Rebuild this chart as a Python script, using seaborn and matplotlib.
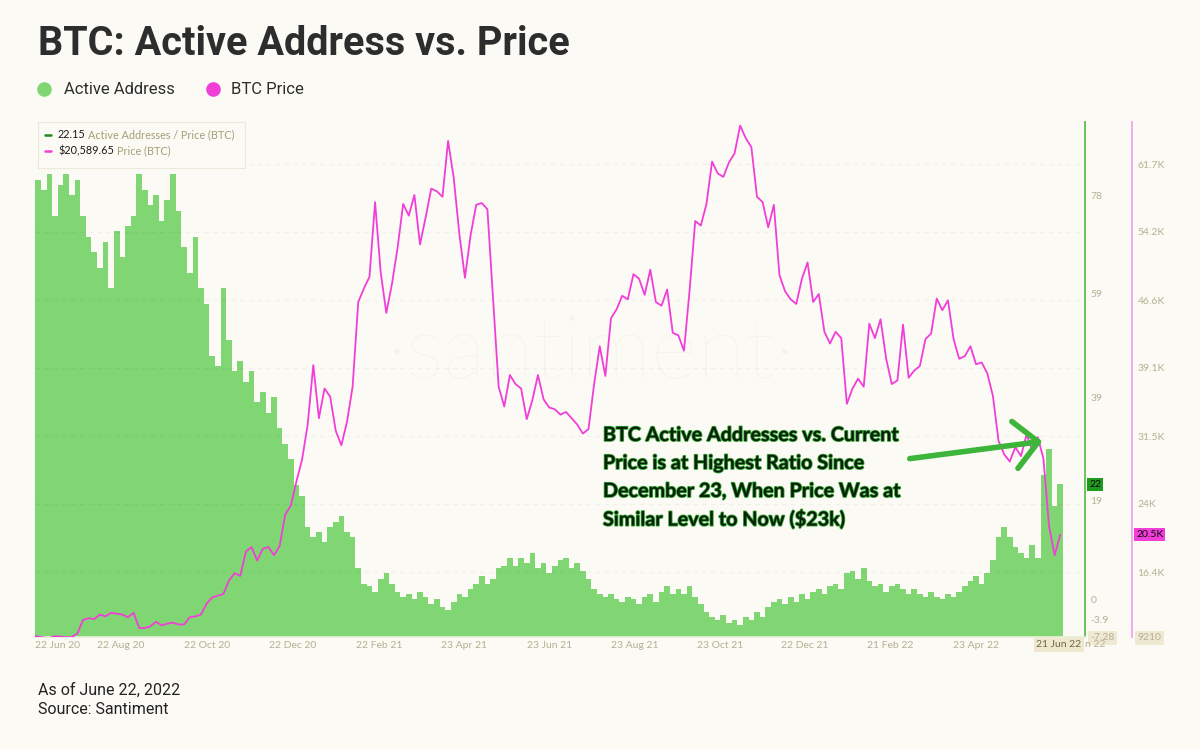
import math
import numpy as np
import pandas as pd
import matplotlib
matplotlib.use("Agg")
import matplotlib.pyplot as plt
import matplotlib.dates as mdates
import matplotlib.patheffects as pe
import matplotlib.transforms as mtransforms
from matplotlib.lines import Line2D
from matplotlib.patches import Rectangle, FancyArrowPatch
import seaborn as sns

# one reading every 4 days, 20 Jun 2020 -> 22 Jun 2022
dates = pd.date_range("2020-06-20", periods=184, freq="4D")

# Active Addresses / Price (BTC)
ratio = [
    77, 81, 79, 82, 74, 80, 82, 78,
    81, 74, 70, 67, 64, 69, 60, 71,
    66, 72, 74, 82, 79, 76, 78, 73,
    77, 82, 75, 68, 63, 70, 60, 57,
    47, 45, 60, 50, 44, 46, 42, 44,
    38, 40, 36, 39, 33, 30, 27, 22,
    20, 14, 12, 13, 11, 14, 15, 16,
    13, 12, 6, 3, 2.5, 1.5, 4, 5,
    3, 1.5, 0.5, 1, 0, 1.5, 0.5, -1,
    0, -1.5, -2, -0.5, 1, 0.5, 2, 3,
    4.5, 3, 4, 6, 6.5, 8, 6.5, 8,
    7, 9, 6, 7, 5, 6.5, 7.5, 8,
    6, 7, 5.5, 4, 2, 1, 0.5, 1,
    0, -0.5, 0.5, 0, -1, 0.5, 1, -0.5,
    1.5, 2.5, 1, 2, 1, 2.5, 0.5, -1,
    -2.5, -3.5, -4, -3, -4.5, -4, -5, -3.5,
    -4, -2.5, -3.5, -1.5, -0.5, 0, -1, 0.5,
    -0.5, 1, 0, 1.5, 2, 1, 2.5, 3,
    2, 5, 5.5, 4, 6, 3.5, 2.5, 3,
    1.5, 2.5, 3, 2, 1, 2, 1, 0.5,
    1.5, 0.5, 0, 1, 0.5, 1.5, 2.5, 3.5,
    4.5, 3, 5, 7.5, 12, 14, 12, 10,
    9, 8, 10.5, 8, 24, 29, 18, 22.15,
]

# BTC price in $K
price_k = [
    9.4, 9.25, 9.15, 9.1, 9.3, 9.25, 9.2, 9.2,
    9.6, 11.1, 11.3, 11.2, 11.7, 11.5, 11.9, 11.8,
    11.7, 11.4, 11.9, 10.2, 10.2, 10.4, 10.9, 10.5,
    10.7, 10.8, 10.6, 10.6, 11.4, 11.5, 11.7, 12.9,
    13.6, 13.8, 14.0, 15.5, 16.3, 16.0, 18.7, 19.2,
    17.7, 19.0, 19.2, 18.3, 19.3, 22.8, 23.8, 26.5,
    28.9, 32.8, 39.4, 33.5, 36.8, 35.9, 32.1, 30.5,
    33.1, 37.0, 46.4, 47.9, 49.2, 57.5, 49.7, 45.2,
    48.4, 52.4, 57.3, 56.0, 58.3, 52.8, 55.8, 59.0,
    58.7, 58.1, 64.3, 60.2, 54.0, 49.1, 53.8, 57.2,
    57.4, 56.7, 46.9, 37.0, 34.8, 38.3, 37.3, 36.8,
    33.4, 35.5, 38.3, 35.6, 34.7, 34.5, 33.9, 34.2,
    33.5, 32.8, 31.8, 32.3, 37.3, 41.5, 38.2, 44.6,
    45.6, 47.1, 46.7, 49.5, 49.0, 47.2, 50.0, 46.4,
    46.0, 47.8, 43.0, 42.7, 41.0, 47.7, 55.4, 54.9,
    57.3, 62.0, 60.7, 60.3, 61.9, 62.9, 66.0, 64.6,
    63.6, 58.1, 57.5, 54.7, 57.2, 49.4, 47.6, 46.7,
    46.2, 49.0, 50.8, 46.4, 47.3, 43.1, 41.8, 43.1,
    42.4, 35.1, 36.8, 37.9, 37.0, 44.0, 42.4, 44.5,
    40.1, 37.3, 37.7, 43.9, 38.0, 38.8, 39.3, 42.3,
    42.9, 46.8, 45.5, 46.6, 42.3, 40.1, 40.4, 41.5,
    39.5, 39.7, 38.5, 36.0, 31.0, 29.5, 28.7, 30.3,
    29.3, 31.7, 29.9, 31.4, 29.0, 21.5, 18.3, 20.58965,
]

ratio_ticks = [78, 59, 39, 19, 0, -3.9, -7.28]
price_ticks = [61700, 54200, 46600, 39100, 31500, 24000, 16400, 9210]
price_tick_labels = ["61.7K", "54.2K", "46.6K", "39.1K", "31.5K", "24K", "16.4K", "9210"]
date_ticks = ["2020-06-22", "2020-08-22", "2020-10-22", "2020-12-22", "2021-02-22",
              "2021-04-23", "2021-06-23", "2021-08-23", "2021-10-23", "2021-12-22",
              "2022-02-21", "2022-04-23"]
last_tick = "2022-06-21"

BG = "#fbfaf4"
GREEN = "#80d673"
PINK = "#f23ed9"
TICK = "#b6af94"
R_MIN, R_MAX = -7.28, 92.1
P_MIN, P_MAX = 9210, 66400

df = pd.DataFrame({"date": dates, "ratio": ratio, "price": np.array(price_k) * 1000})

sns.set_theme(style="white")
plt.rcParams["font.family"] = ["Lato", "DejaVu Sans"]


def fx(px):
    return px / 1200


def fy(py):
    return 1 - py / 750


fig = plt.figure(figsize=(12, 7.5), dpi=100, facecolor=BG)
ax = fig.add_axes([fx(35), fy(637), 1050 / 1200, 515 / 750])
ax.set_facecolor(BG)

# green bars hang from the bottom of the axis
ax.bar(df["date"], df["ratio"] - R_MIN, bottom=R_MIN, width=4, color=GREEN,
       linewidth=0, zorder=2)
ax.set_ylim(R_MIN, R_MAX)
x0 = mdates.date2num(pd.Timestamp("2020-06-20"))
ax.set_xlim(x0 + 1.8, x0 + 749.6)

ax.text(0.53, 0.55, "\u00b7santiment\u00b7", transform=ax.transAxes, fontsize=64,
        color="#ebe8dc", alpha=0.4, ha="center", va="center", zorder=1,
        family="Lato", weight="light")

ax2 = ax.twinx()
sns.lineplot(data=df, x="date", y="price", ax=ax2, color=PINK, linewidth=1.3)
ax2.set_ylim(P_MIN, P_MAX)
ax2.set_xlim(x0 + 1.8, x0 + 749.6)
ax.set_xlabel("")
ax.set_ylabel("")
ax2.set_xlabel("")
ax2.set_ylabel("")

# spines
for s in ["left", "top"]:
    ax.spines[s].set_visible(False)
ax.spines["bottom"].set_color("#e6efd9")
ax.spines["right"].set_color("#5cc24d")
ax.spines["right"].set_linewidth(1.3)
for s in ["left", "top", "bottom"]:
    ax2.spines[s].set_visible(False)
ax2.spines["right"].set_position(("outward", 47 * 0.72))
ax2.spines["right"].set_color("#f5a3e6")
ax2.spines["right"].set_linewidth(1.3)

# ratio axis ticks
ax.yaxis.tick_right()
ax.set_yticks(ratio_ticks)
ax.set_yticklabels([f"{t:g}" for t in ratio_ticks])
ax.tick_params(axis="y", length=0, pad=4, labelsize=7.5, colors=TICK)
for lab in ax.get_yticklabels():
    if lab.get_text() == "-7.28":
        lab.set_bbox(dict(boxstyle="square,pad=0.2", fc="#efe9d3", ec="none"))

# price axis ticks
ax2.set_yticks(price_ticks)
ax2.set_yticklabels(price_tick_labels)
ax2.tick_params(axis="y", length=0, pad=4, labelsize=7.5, colors=TICK)
for lab in ax2.get_yticklabels():
    if lab.get_text() == "9210":
        lab.set_bbox(dict(boxstyle="square,pad=0.2", fc="#efe9d3", ec="none"))

# date ticks
ax.set_xticks(pd.to_datetime(date_ticks))
ax.xaxis.set_major_formatter(mdates.DateFormatter("%d %b %y"))
ax.tick_params(axis="x", length=0, pad=3, labelsize=7.5, colors=TICK)
ax.get_xticklabels()[0].set_horizontalalignment("left")

# faint grid
ax2.grid(True, axis="both", color="#000000", alpha=0.045, linewidth=0.8,
         linestyle=(0, (4, 4)))
ax2.set_xticks(pd.to_datetime(date_ticks))
ax2.tick_params(axis="x", length=0, labelbottom=False)
ax.grid(False)

# last-value highlights
tr_r = mtransforms.blended_transform_factory(ax.transAxes, ax.transData)
ax.text(1 + 4 / 1050, df["ratio"].iloc[-1], f"{df['ratio'].iloc[-1]:.0f}",
        transform=tr_r, fontsize=7.5, color="#0a0a0a", va="center", ha="left",
        bbox=dict(boxstyle="square,pad=0.2", fc="#1f9a1f", ec="none"), clip_on=False, zorder=6)
tr_p = mtransforms.blended_transform_factory(ax2.transAxes, ax2.transData)
last_p = math.floor(df["price"].iloc[-1] / 100) / 10
ax2.text(1 + 51 / 1050, df["price"].iloc[-1], f"{last_p:.1f}K",
         transform=tr_p, fontsize=7.5, color="#0a0a0a", va="center", ha="left",
         bbox=dict(boxstyle="square,pad=0.2", fc=PINK, ec="none"), clip_on=False, zorder=6)

# highlighted last date; the tail of the hidden "22 Jun 22" label peeks out after it
tr_x = mtransforms.blended_transform_factory(ax.transData, ax.transAxes)
ax.text(1 + 0 / 1050, -0.0155, "n 22", transform=ax.transAxes, fontsize=7.5,
        color=TICK, ha="left", va="center", clip_on=False, zorder=4)
ax.text(mdates.date2num(pd.Timestamp(last_tick)), -0.0155, "21 Jun 22", transform=tr_x,
        fontsize=7.5, color="#6e6747", ha="center", va="center", clip_on=False, zorder=5,
        bbox=dict(boxstyle="square,pad=0.25", fc="#efe8cf", ec="none"))

# inner legend box
fig.add_artist(Rectangle((fx(38), fy(168)), 207 / 1200, 46 / 750, transform=fig.transFigure,
                         fc=BG, ec="#ebe8dc", lw=0.8, zorder=10))
fig.add_artist(Line2D([fx(45), fx(51)], [fy(135)] * 2, color="#1d8c1d", lw=1.8,
                      transform=fig.transFigure, zorder=11))
fig.add_artist(Line2D([fx(45), fx(51)], [fy(151)] * 2, color=PINK, lw=1.8,
                      transform=fig.transFigure, zorder=11))
fig.text(fx(58), fy(135), f"{ratio[-1]:.2f}", fontsize=7.8, color="#1a1a1a", va="center", zorder=11)
fig.text(fx(88), fy(135), "Active Addresses / Price (BTC)", fontsize=7.8, color="#a69f78",
         va="center", zorder=11)
fig.text(fx(58), fy(151), f"${price_k[-1] * 1000:,.2f}", fontsize=7.8, color="#1a1a1a",
         va="center", zorder=11)
fig.text(fx(117), fy(151), "Price (BTC)", fontsize=7.8, color="#a69f78", va="center", zorder=11)

# title, legend, footer
fig.text(fx(38), fy(44), "BTC: Active Address vs. Price", fontsize=28.5, weight="bold",
         family="Roboto", color="#2d2d2d", va="center")
fig.add_artist(Line2D([fx(44)], [fy(89)], marker="o", ms=10.5, color=GREEN, mec="none",
                      transform=fig.transFigure))
fig.text(fx(64), fy(89), "Active Address", fontsize=12, family="Roboto", color="#2d2d2d",
         va="center")
fig.add_artist(Line2D([fx(213)], [fy(89)], marker="o", ms=10.5, color=PINK, mec="none",
                      transform=fig.transFigure))
fig.text(fx(231), fy(89), "BTC Price", fontsize=12, family="Roboto", color="#2d2d2d",
         va="center")
fig.text(fx(38), fy(690), "As of June 22, 2022", fontsize=11.5, family="Roboto",
         color="#222222", va="center")
fig.text(fx(38), fy(709), "Source: Santiment", fontsize=11.5, family="Roboto",
         color="#222222", va="center")

# annotation
note = ["BTC Active Addresses vs. Current", "Price is at Highest Ratio Since",
        "December 23, When Price Was at", "Similar Level to Now ($23k)"]
for i, line in enumerate(note):
    fig.text(fx(603), fy(435 + 28 * i), line, fontsize=14.2, weight="bold", family="Lato",
             color="#0b1f0b", va="center", zorder=12,
             path_effects=[pe.withStroke(linewidth=1.2, foreground="#34a834")])
arrow = FancyArrowPatch((fx(907), fy(459)), (fx(1045), fy(441)), transform=fig.transFigure,
                        arrowstyle="->,head_length=0.85,head_width=0.85", mutation_scale=20,
                        color="#3cb53a", lw=4, capstyle="round", joinstyle="round", zorder=12)
fig.add_artist(arrow)

fig.savefig("out.png", dpi=100, facecolor=BG)
